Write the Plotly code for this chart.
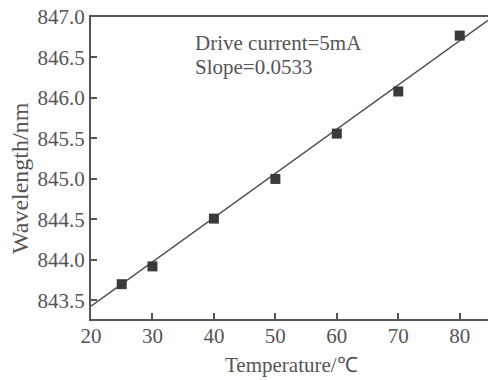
import plotly.graph_objects as go

temperature = [25, 30, 40, 50, 60, 70, 80]
wavelength = [843.70, 843.92, 844.51, 845.00, 845.56, 846.08, 846.77]
fit_x = [20, 84.6]
fit_y = [843.43, 846.96]
y_ticks = [843.5, 844.0, 844.5, 845.0, 845.5, 846.0, 846.5, 847.0]
x_ticks = [20, 30, 40, 50, 60, 70, 80]

font_fam = "Liberation Serif, Times New Roman, serif"
gray = "#555555"

fig = go.Figure()
fig.add_trace(go.Scatter(x=fit_x, y=fit_y, mode="lines",
                         line=dict(color="#505050", width=1.5), showlegend=False))
fig.add_trace(go.Scatter(x=temperature, y=wavelength, mode="markers",
                         marker=dict(symbol="square", size=10, color="#3a3a3a"),
                         showlegend=False))

fig.add_annotation(x=36.6, y=846.68, xref="x", yref="y", text="Drive current=5mA",
                   showarrow=False, xanchor="left", yanchor="middle",
                   font=dict(family=font_fam, size=21, color=gray))
fig.add_annotation(x=36.6, y=846.38, xref="x", yref="y", text="Slope=0.0533",
                   showarrow=False, xanchor="left", yanchor="middle",
                   font=dict(family=font_fam, size=21, color=gray))

# axis titles
fig.add_annotation(x=-91 / 397, y=-(178 - 17) / 302 + 1, xref="paper", yref="paper",
                   text="Wavelength/nm", showarrow=False, textangle=-90,
                   xanchor="left", yanchor="middle", xshift=5,
                   font=dict(family=font_fam, size=24, color=gray))
fig.add_annotation(x=(291 - 91) / 397, y=-(365 - 319) / 302, xref="paper", yref="paper",
                   text="Temperature/℃", showarrow=False,
                   xanchor="center", yanchor="middle",
                   font=dict(family=font_fam, size=21, color=gray))

fig.update_layout(
    width=488, height=380,
    margin=dict(l=91, r=0, t=17, b=61),
    paper_bgcolor="white", plot_bgcolor="white",
    font=dict(family=font_fam, size=21, color=gray),
    xaxis=dict(range=[20, 84.6], tickvals=x_ticks, ticktext=[str(v) for v in x_ticks],
               ticks="inside", ticklen=6, tickcolor=gray, tickwidth=1.5,
               ticklabelstandoff=-3,
               showline=True, linecolor=gray, linewidth=2, mirror=True,
               showgrid=False, zeroline=False),
    yaxis=dict(range=[843.27, 847.0], tickvals=y_ticks,
               ticktext=[f"{v:.1f}" for v in y_ticks],
               ticks="inside", ticklen=6, tickcolor=gray, tickwidth=1.5,
               showline=True, linecolor=gray, linewidth=2, mirror=False,
               showgrid=False, zeroline=False),
)

fig.write_html("out.html")
